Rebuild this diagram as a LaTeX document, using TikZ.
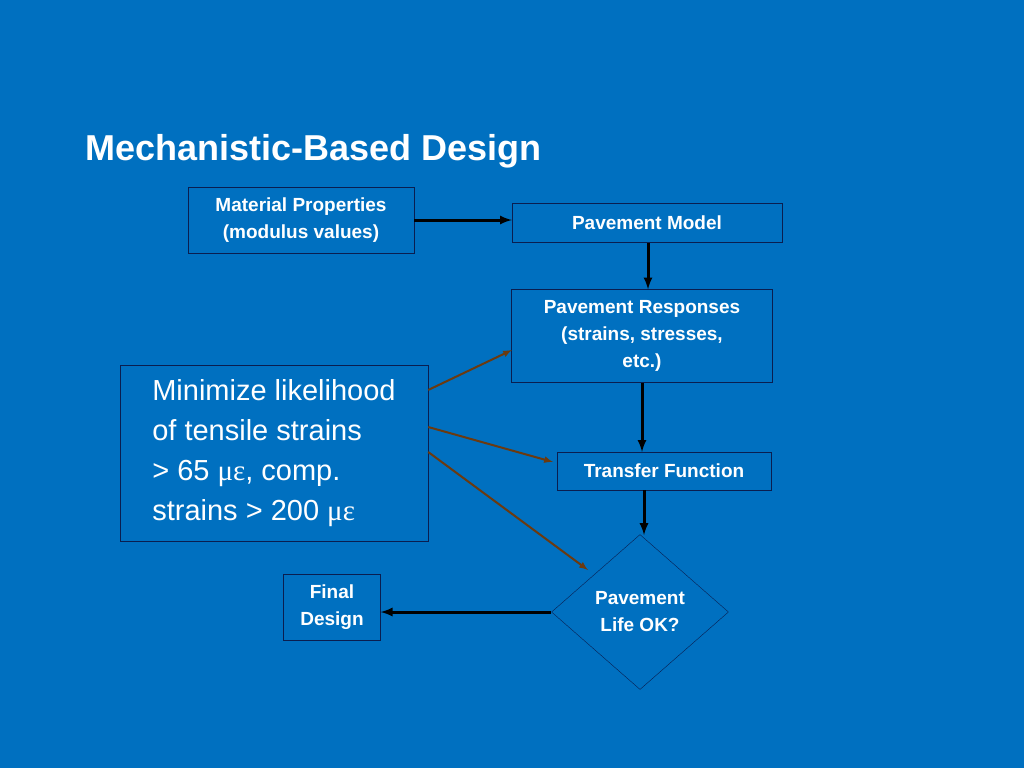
\documentclass[tikz,border=0pt]{standalone}
\usepackage{fontspec}
\setmainfont{Liberation Sans}
\newfontfamily\grk{Liberation Serif}
\usetikzlibrary{shapes.geometric}
\definecolor{slideblue}{HTML}{0070C0}
\definecolor{edgeblue}{HTML}{0A1E50}
\definecolor{linkbrown}{HTML}{6B3A10}
\tikzset{
  box/.style={draw=edgeblue,fill=slideblue,text=white,font=\fontsize{19}{27}\selectfont\bfseries,align=center,inner sep=0pt},
  flow/.style={line width=3pt,->,>=latex},
  link/.style={line width=2pt,draw=linkbrown,->,>=latex}
}
\begin{document}
\begin{tikzpicture}[x=1pt,y=-1pt]
				\fill[slideblue] (0,0) rectangle (1024,768);
				\useasboundingbox (0,0) rectangle (1024,768);
				
				\node[anchor=base west,text=white,font=\fontsize{36}{40}\selectfont\bfseries] (title) at (82,160) {Mechanistic-Based Design};
				
				\node[box,minimum width=226,minimum height=66] (props) at (301,220) {Material Properties\\(modulus values)};
				\node[box,minimum width=270,minimum height=39] (model) at (647,223) {Pavement Model};
				\node[box,minimum width=261,minimum height=93] (resp) at (642,336) {Pavement Responses\\(strains, stresses,\\etc.)};
				\node[box,minimum width=214,minimum height=38] (transfer) at (664,471) {Transfer Function};
				\node[box,diamond,minimum width=177,minimum height=155] (life) at (640,612) {Pavement\\Life OK?};
				\node[box,minimum width=97,minimum height=66] (final) at (332,607) {Final\\Design};
				\node[box,font=\fontsize{29}{40}\selectfont,align=left,minimum width=308,minimum height=176] (goal) at (274,453)
					{Minimize likelihood\\of tensile strains\\> 65 {\grk με}, comp.\\strains > 200 {\grk με}};
				
				\draw[flow] (props.east) -- (model.west |- props.east);
				\draw[flow] (model.south -| 648,0) -- (resp.north -| 648,0);
				\draw[flow] (resp.south) -- (transfer.north -| resp.south);
				\draw[flow] (transfer.south -| 644,0) -- (644,535);
				\draw[flow] (life.west) -- (final.east |- life.west);
				\draw[link] (goal.east |- 0,390) -- (512,350);
				\draw[link] (goal.east |- 0,427) -- (553,462);
				\draw[link] (goal.east |- 0,452) -- (588,570);
			\end{tikzpicture}
\end{document}
